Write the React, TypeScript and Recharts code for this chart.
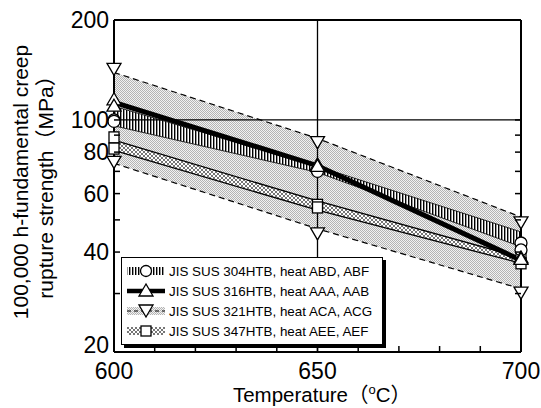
import React from 'react';
import { ComposedChart, Area, Line, Scatter, XAxis, YAxis, ReferenceLine } from 'recharts';

const temps = [600, 650, 700];
const xTicks = [600, 610, 620, 630, 640, 650, 660, 670, 680, 690, 700];
const xLabels = [600, 650, 700];
const yTicks = [20, 30, 40, 50, 60, 70, 80, 90, 100, 200];
const yLabels = [20, 40, 60, 80, 100, 200];

// bands (lower / upper) and the 316 mean line, MPa
const sus304Low = [96, 69.5, 41.5];
const sus304High = [110, 72.5, 46];
const sus316 = [113, 72.8, 37.8];
const sus321Low = [74, 47, 31];
const sus321High = [139, 88, 51];
const sus347Low = [81, 53.5, 37];
const sus347High = [87, 57, 38.5];

// measured points, two heats each
const pts304 = [[100, 70.5, 42.6], [99, 70, 40.6]];
const pts316 = [[115, 73.3, 38.4], [110, 72.5, 38]];
const pts321 = [[143, 86, 49.3], [75, 45.7, 30.3]];
const pts347 = [[88.6, 55.5, 38.2], [82, 54.5, 37]];

const legendNames = [
  'JIS SUS 304HTB, heat ABD, ABF',
  'JIS SUS 316HTB, heat AAA, AAB',
  'JIS SUS 321HTB, heat ACA, ACG',
  'JIS SUS 347HTB, heat AEE, AEF',
];

const rows = temps.map((t, i) => ({
  t,
  b304: [sus304Low[i], sus304High[i]],
  s316: sus316[i],
  b321: [sus321Low[i], sus321High[i]],
  b347: [sus347Low[i], sus347High[i]],
}));

const toPoints = (sets: number[][]) => sets.flatMap((s) => s.map((v, i) => ({ t: temps[i], v })));

const FONT = '"Liberation Sans", Arial, "Noto Sans CJK JP", sans-serif';

const circle = ({ cx, cy }: any) => <circle cx={cx} cy={cy} r={6} fill="#fff" stroke="#000" strokeWidth={1.3} />;
const triUp = ({ cx, cy }: any) => (
  <polygon points={`${cx},${cy - 7} ${cx - 7},${cy + 5} ${cx + 7},${cy + 5}`} fill="#fff" stroke="#000" strokeWidth={1.3} />
);
const triDown = ({ cx, cy }: any) => (
  <polygon points={`${cx - 7},${cy - 5} ${cx + 7},${cy - 5} ${cx},${cy + 7}`} fill="#fff" stroke="#000" strokeWidth={1.3} />
);
const square = ({ cx, cy }: any) => (
  <rect x={cx - 5} y={cy - 5.5} width={10} height={11} fill="#fff" stroke="#000" strokeWidth={1.3} />
);

const BottomTick = ({ x, y, payload }: any) => (
  <g>
    <line x1={x} y1={y} x2={x} y2={y - 6} stroke="#000" strokeWidth={1.5} />
    {xLabels.includes(payload.value) && (
      <text x={x} y={y + 27} textAnchor="middle" fontSize={23} fontFamily={FONT} fill="#000">
        {payload.value}
      </text>
    )}
  </g>
);
const TopTick = ({ x, y }: any) => <line x1={x} y1={y} x2={x} y2={y + 6} stroke="#000" strokeWidth={1.5} />;
const LeftTick = ({ x, y, payload }: any) => (
  <g>
    <line x1={x} y1={y} x2={x + 6} y2={y} stroke="#000" strokeWidth={1.5} />
    {yLabels.includes(payload.value) && (
      <text x={x - 5} y={payload.value === 20 ? y + 1 : y + 8} textAnchor="end" fontSize={23} fontFamily={FONT} fill="#000">
        {payload.value}
      </text>
    )}
  </g>
);
const RightTick = ({ x, y }: any) => <line x1={x} y1={y} x2={x - 6} y2={y} stroke="#000" strokeWidth={1.5} />;

const XTitle = () => (
  <text x={322} y={402} textAnchor="middle" fontSize={20.5} fontFamily={FONT} fill="#000">
    Temperature（<tspan fontSize={13} dy={-8}>o</tspan>
    <tspan dy={8}>C）</tspan>
  </text>
);
const YTitle = () => (
  <g fontSize={21} fontFamily={FONT} fill="#000" textAnchor="middle">
    <text x={28} y={182} transform="rotate(-90, 28, 182)">100,000 h-fundamental creep</text>
    <text x={53} y={182} transform="rotate(-90, 53, 182)">rupture strength（MPa）</text>
  </g>
);

function LegendIcon({ i }: { i: number }) {
  return (
    <svg width={40} height={18} style={{ display: 'block' }}>
      {i === 0 && (
        <>
          <rect x={1} y={5} width={38} height={8} fill="url(#vhatch)" />
          <circle cx={20} cy={9} r={5.5} fill="#fff" stroke="#000" strokeWidth={1.3} />
        </>
      )}
      {i === 1 && (
        <>
          <line x1={1} y1={9} x2={39} y2={9} stroke="#000" strokeWidth={4.5} />
          <polygon points="20,2 13,14 27,14" fill="#fff" stroke="#000" strokeWidth={1.3} />
        </>
      )}
      {i === 2 && (
        <>
          <rect x={1} y={5} width={38} height={8} fill="url(#dots)" />
          <line x1={1} y1={9} x2={39} y2={9} stroke="#000" strokeWidth={1.2} strokeDasharray="4 3" />
          <polygon points="13,3 27,3 20,15" fill="#fff" stroke="#000" strokeWidth={1.3} />
        </>
      )}
      {i === 3 && (
        <>
          <rect x={1} y={5} width={38} height={8} fill="url(#xhatch)" />
          <rect x={15} y={4} width={10} height={10} fill="#fff" stroke="#000" strokeWidth={1.3} />
        </>
      )}
    </svg>
  );
}

export default function App() {
  return (
    <div style={{ position: 'absolute', left: 0, top: 0, width: 541, height: 408, background: '#fff' }}>
      <ComposedChart width={541} height={408} data={rows} margin={{ top: 19, right: 19, bottom: 55, left: 113 }}>
        <defs>
          <pattern id="dots" width={2} height={2} patternUnits="userSpaceOnUse">
            <rect width={2} height={2} fill="#f2f2f2" />
            <rect width={1} height={1} fill="#b4b4b4" />
            <rect x={1} y={1} width={1} height={1} fill="#b4b4b4" />
          </pattern>
          <pattern id="vhatch" width={3} height={3} patternUnits="userSpaceOnUse">
            <rect width={3} height={3} fill="#fff" />
            <rect width={1.4} height={3} fill="#000" />
          </pattern>
          <pattern id="xhatch" width={4} height={4} patternUnits="userSpaceOnUse">
            <rect width={4} height={4} fill="#fff" />
            <path d="M0,0 L4,4 M4,0 L0,4" stroke="#666" strokeWidth={0.9} />
          </pattern>
        </defs>
        <XAxis
          dataKey="t"
          type="number"
          domain={[600, 700]}
          ticks={xTicks}
          interval={0}
          height={1}
          tickSize={0}
          tickMargin={0}
          tickLine={false}
          tick={<BottomTick />}
          axisLine={{ stroke: '#000', strokeWidth: 2 }}
          label={<XTitle />}
        />
        <XAxis
          xAxisId="top"
          orientation="top"
          type="number"
          domain={[600, 700]}
          ticks={xTicks}
          interval={0}
          height={1}
          tickSize={0}
          tickMargin={0}
          tickLine={false}
          tick={<TopTick />}
          axisLine={{ stroke: '#000', strokeWidth: 2 }}
        />
        <YAxis
          type="number"
          scale="log"
          domain={[20, 200]}
          allowDataOverflow
          ticks={yTicks}
          interval={0}
          width={1}
          tickSize={0}
          tickMargin={0}
          tickLine={false}
          tick={<LeftTick />}
          axisLine={{ stroke: '#000', strokeWidth: 2 }}
          label={<YTitle />}
        />
        <YAxis
          yAxisId="right"
          orientation="right"
          type="number"
          scale="log"
          domain={[20, 200]}
          allowDataOverflow
          ticks={yTicks}
          interval={0}
          width={1}
          tickSize={0}
          tickMargin={0}
          tickLine={false}
          tick={<RightTick />}
          axisLine={{ stroke: '#000', strokeWidth: 2 }}
        />
        <Area dataKey="b321" fill="url(#dots)" fillOpacity={1} stroke="#000" strokeWidth={1.2} strokeDasharray="6 4" isAnimationActive={false} />
        <Area dataKey="b347" fill="url(#xhatch)" fillOpacity={1} stroke="#000" strokeWidth={1.3} isAnimationActive={false} />
        <Area dataKey="b304" fill="url(#vhatch)" fillOpacity={1} stroke="#000" strokeWidth={0.8} isAnimationActive={false} />
        <Line dataKey="s316" stroke="#000" strokeWidth={5} dot={false} isAnimationActive={false} />
        <ReferenceLine x={650} stroke="#000" strokeWidth={1.3} />
        <ReferenceLine y={100} stroke="#000" strokeWidth={1.3} />
        <Scatter data={toPoints(pts347)} dataKey="v" shape={square} isAnimationActive={false} />
        <Scatter data={toPoints(pts321)} dataKey="v" shape={triDown} isAnimationActive={false} />
        <Scatter data={toPoints(pts304)} dataKey="v" shape={circle} isAnimationActive={false} />
        <Scatter data={toPoints(pts316)} dataKey="v" shape={triUp} isAnimationActive={false} />
      </ComposedChart>
      <div
        style={{
          position: 'absolute',
          left: 121,
          top: 257,
          width: 262,
          height: 88,
          boxSizing: 'border-box',
          border: '1.5px solid #000',
          boxShadow: '3px 3px 0 #000',
          background: '#fff',
          paddingTop: 3,
          fontFamily: FONT,
          fontSize: 13.4,
        }}
      >
        {legendNames.map((name, i) => (
          <div key={name} style={{ display: 'flex', alignItems: 'center', height: 20, paddingLeft: 4 }}>
            <LegendIcon i={i} />
            <span style={{ marginLeft: 3, whiteSpace: 'nowrap' }}>{name}</span>
          </div>
        ))}
      </div>
    </div>
  );
}
